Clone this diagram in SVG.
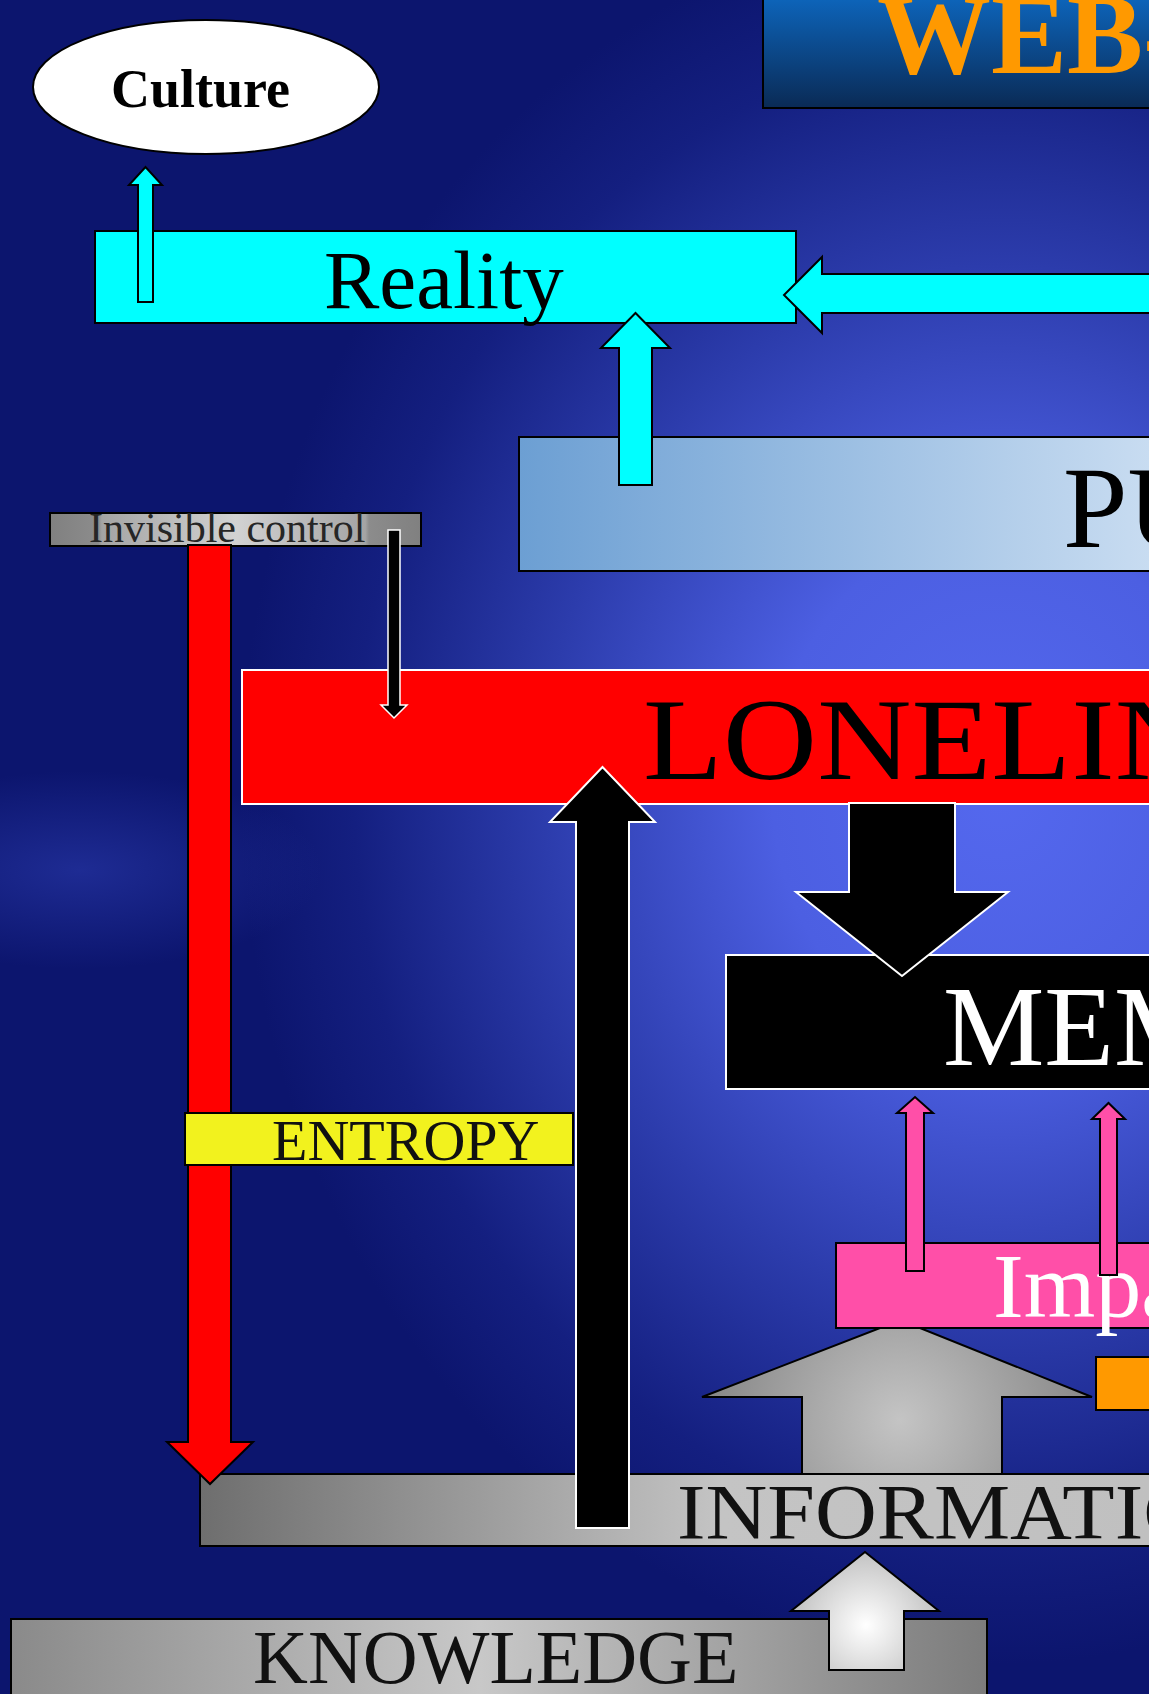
<svg xmlns="http://www.w3.org/2000/svg" width="1149" height="1694" viewBox="0 0 1149 1694">
<defs>
  <radialGradient id="bg" gradientUnits="userSpaceOnUse" cx="1000" cy="790" r="760" gradientTransform="translate(1000 790) scale(1 1.15) translate(-1000 -790)">
    <stop offset="0" stop-color="#5468ee"/>
    <stop offset="0.3" stop-color="#4c5fe2"/>
    <stop offset="0.6" stop-color="#2c3cac"/>
    <stop offset="0.85" stop-color="#141f80"/>
    <stop offset="1" stop-color="#0c156e"/>
  </radialGradient>
  <radialGradient id="streak" gradientUnits="userSpaceOnUse" cx="80" cy="870" r="220" gradientTransform="translate(80 870) scale(1.1 0.45) translate(-80 -870)">
    <stop offset="0" stop-color="#2a3aac" stop-opacity="0.6"/>
    <stop offset="1" stop-color="#2a3aac" stop-opacity="0"/>
  </radialGradient>
  <linearGradient id="title" x1="0" y1="0" x2="0" y2="1">
    <stop offset="0" stop-color="#0d66bd"/>
    <stop offset="1" stop-color="#0a2a55"/>
  </linearGradient>
  <linearGradient id="pub" gradientUnits="userSpaceOnUse" x1="519" y1="0" x2="1149" y2="0">
    <stop offset="0" stop-color="#6c9fd3"/>
    <stop offset="1" stop-color="#c8dcf1"/>
  </linearGradient>
  <linearGradient id="inv" x1="0" y1="0" x2="1" y2="0">
    <stop offset="0" stop-color="#808080"/>
    <stop offset="0.13" stop-color="#8c8c8c"/>
    <stop offset="0.14" stop-color="#a4a4a4"/>
    <stop offset="0.5" stop-color="#d2d2d2"/>
    <stop offset="0.85" stop-color="#a4a4a4"/>
    <stop offset="0.86" stop-color="#8c8c8c"/>
    <stop offset="1" stop-color="#808080"/>
  </linearGradient>
  <linearGradient id="info" gradientUnits="userSpaceOnUse" x1="200" y1="0" x2="1149" y2="0">
    <stop offset="0" stop-color="#6e6e6e"/>
    <stop offset="0.55" stop-color="#c4c4c4"/>
    <stop offset="1" stop-color="#c0c0c0"/>
  </linearGradient>
  <linearGradient id="know" gradientUnits="userSpaceOnUse" x1="11" y1="0" x2="987" y2="0">
    <stop offset="0" stop-color="#8a8a8a"/>
    <stop offset="0.48" stop-color="#c8c8c8"/>
    <stop offset="1" stop-color="#7c7c7c"/>
  </linearGradient>
  <radialGradient id="greyarr" gradientUnits="userSpaceOnUse" cx="900" cy="1420" r="200">
    <stop offset="0" stop-color="#c4c4c4"/>
    <stop offset="1" stop-color="#858585"/>
  </radialGradient>
  <radialGradient id="whitearr" gradientUnits="userSpaceOnUse" cx="866" cy="1625" r="80">
    <stop offset="0" stop-color="#ffffff"/>
    <stop offset="1" stop-color="#bdbdbd"/>
  </radialGradient>
  <clipPath id="invclip"><rect x="50" y="513" width="371" height="33"/></clipPath>
  <style>
    .serif { font-family: "Liberation Serif", "Times New Roman", serif; }
    .bk { stroke: #000; stroke-width: 2; }
    .wh { stroke: #fff; stroke-width: 2; }
    .cyan { fill: #00ffff; stroke: #000; stroke-width: 2; stroke-linejoin: miter; }
    .pink { fill: #ff4fa8; stroke: #000; stroke-width: 2; }
  </style>
</defs>

<g id="background">
  <rect x="0" y="0" width="1149" height="1694" fill="#0c156e"/>
  <rect x="0" y="0" width="1149" height="1694" fill="url(#bg)"/>
  <rect x="0" y="700" width="420" height="340" fill="url(#streak)"/>
</g>

<g id="title-node">
  <rect x="763" y="-5" width="400" height="113" fill="url(#title)" class="bk"/>
  <text x="877" y="73" class="serif" font-size="114" font-weight="bold" fill="#ff9900">WEB-</text>
</g>

<g id="culture">
  <ellipse cx="206" cy="87" rx="173" ry="67" fill="#ffffff" class="bk"/>
  <text x="111" y="107" class="serif" font-size="54" font-weight="bold" fill="#000">Culture</text>
</g>

<g id="reality">
  <rect x="95" y="231" width="701" height="92" fill="#00ffff" class="bk"/>
  <text x="324" y="308" class="serif" font-size="83" fill="#000">Reality</text>
</g>

<g id="public">
  <rect x="519" y="437" width="640" height="134" fill="url(#pub)" class="bk"/>
  <text x="1063" y="547" class="serif" font-size="116" fill="#000">PU</text>
</g>

<g id="invisible-control">
  <rect x="50" y="513" width="371" height="33" fill="url(#inv)" class="bk"/>
  <text x="89" y="542" class="serif" font-size="42" fill="#262626" clip-path="url(#invclip)">Invisible control</text>
</g>

<g id="loneliness">
  <rect x="242" y="670" width="920" height="134" fill="#ff0000" class="wh"/>
  <text x="643" y="779" class="serif" font-size="116" fill="#000" textLength="566" lengthAdjust="spacingAndGlyphs">LONELIN</text>
</g>

<g id="memory">
  <rect x="726" y="955" width="430" height="134" fill="#000000" class="wh"/>
  <text x="943" y="1065" class="serif" font-size="114" fill="#ffffff">MEM</text>
</g>

<g id="impact">
  <rect x="836" y="1243" width="320" height="85" fill="#ff4fa8" class="bk"/>
  <text x="993" y="1317" class="serif" font-size="92" fill="#ffffff">Impa</text>
</g>

<g id="orange-node">
  <rect x="1096" y="1357" width="60" height="53" fill="#ff9900" class="bk"/>
</g>

<g id="information">
  <rect x="200" y="1474" width="960" height="72" fill="url(#info)" class="bk"/>
  <text x="677" y="1538" class="serif" font-size="78" fill="#111" textLength="528" lengthAdjust="spacingAndGlyphs">INFORMATIO</text>
</g>

<g id="knowledge">
  <rect x="11" y="1619" width="976" height="90" fill="url(#know)" class="bk"/>
  <text x="253" y="1683" class="serif" font-size="76" fill="#111">KNOWLEDGE</text>
</g>

<g id="connectors">
  <polygon class="cyan" stroke-width="1.5" points="138,302 138,185 129,185 145.5,167 162,185 153,185 153,302"/>
  <polygon class="cyan" points="619,485 619,348 601,348 635.5,313 670,348 652,348 652,485"/>
  <polygon class="cyan" points="1155,274 822,274 822,257 784,295 822,333 822,313 1155,313"/>
  <polygon fill="#ff0000" class="bk" points="188,545 231,545 231,1442 253,1442 210,1484 167,1442 188,1442"/>
  <polygon fill="#000" stroke="#fff" stroke-width="1.5" points="388,530 400,530 400,705 407,705 394,718 381,705 388,705"/>
  <polygon fill="#000" class="wh" points="576,1528 576,822 550,822 602.5,767 655,822 629,822 629,1528"/>
  <polygon fill="#000" class="wh" points="849,803 955,803 955,892 1008,892 902,976 796,892 849,892"/>
  <polygon class="pink" points="906,1271 906,1113 897,1113 915,1097 933,1113 924,1113 924,1271"/>
  <polygon class="pink" points="1100,1275 1100,1119 1092,1119 1108.5,1103 1125,1119 1117,1119 1117,1275"/>
  <polygon fill="url(#greyarr)" class="bk" points="802,1474 802,1397 702,1397 880,1328 920,1328 1092,1397 1002,1397 1002,1474"/>
  <polygon fill="url(#whitearr)" class="bk" points="829,1670 829,1611 791,1611 865,1552 939,1611 904,1611 904,1670"/>
</g>

<g id="entropy">
  <rect x="185" y="1113" width="388" height="52" fill="#f2f21e" class="bk"/>
  <text x="272" y="1160" class="serif" font-size="58" fill="#111">ENTROPY</text>
</g>
</svg>
